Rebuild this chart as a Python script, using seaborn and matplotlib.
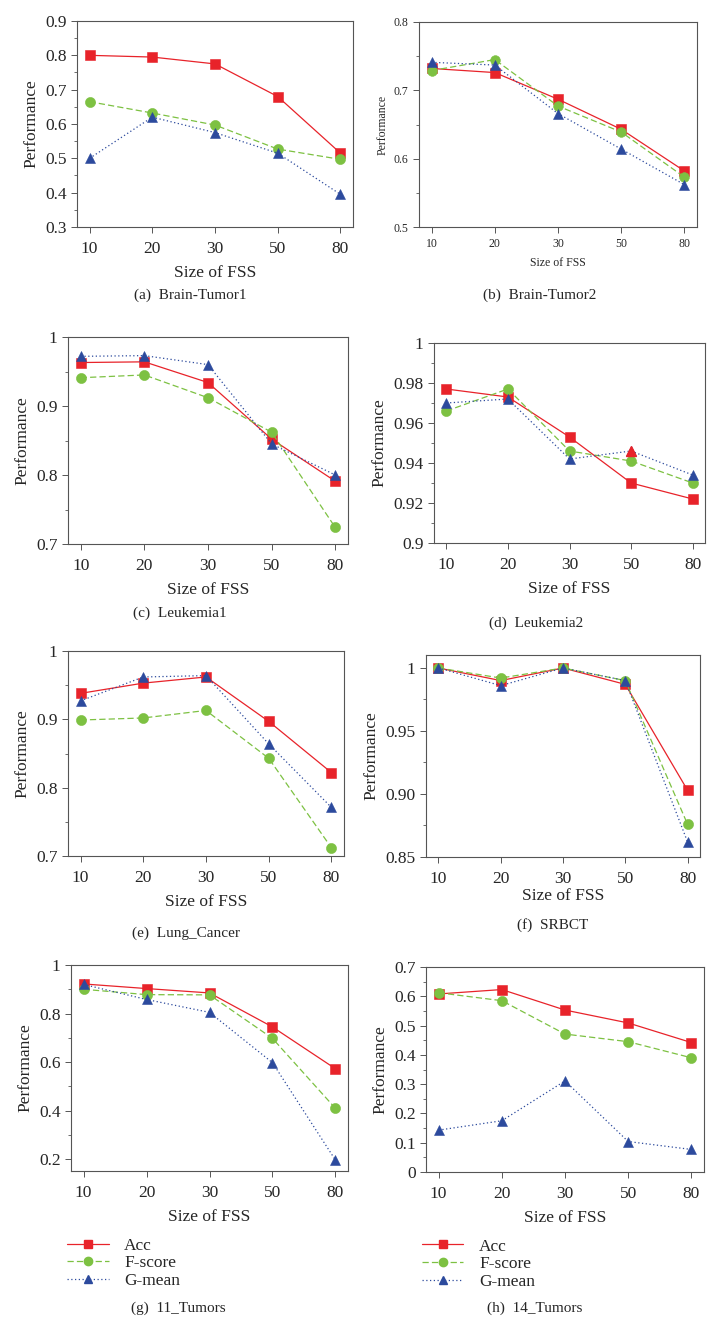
import matplotlib
matplotlib.use("Agg")
import matplotlib.pyplot as plt
from matplotlib.lines import Line2D
from matplotlib.ticker import FixedLocator, AutoMinorLocator
import seaborn as sns
import pandas as pd

sns.set_style("ticks")
plt.rcParams["font.family"] = ["Liberation Serif", "DejaVu Serif"]

sizes = ["10", "20", "30", "50", "80"]
metrics = ["Acc", "F-score", "G-mean"]
colors = ["#e8232a", "#7dc142", "#2c4a9d"]
markers = ["s", "o", "^"]
styles = ["-", (0, (5, 2.5)), (0, (1, 2))]

# values per dataset: Acc, F-score, G-mean
brain1_acc = [0.800, 0.795, 0.775, 0.680, 0.515]
brain1_f = [0.665, 0.632, 0.597, 0.527, 0.497]
brain1_g = [0.500, 0.620, 0.575, 0.515, 0.395]

brain2_acc = [0.732, 0.726, 0.687, 0.643, 0.582]
brain2_f = [0.729, 0.745, 0.677, 0.639, 0.573]
brain2_g = [0.741, 0.737, 0.666, 0.614, 0.562]

leuk1_acc = [0.963, 0.964, 0.934, 0.852, 0.791]
leuk1_f = [0.941, 0.945, 0.912, 0.862, 0.724]
leuk1_g = [0.972, 0.973, 0.960, 0.845, 0.800]

leuk2_acc = [0.977, 0.973, 0.953, 0.930, 0.922]
leuk2_f = [0.966, 0.977, 0.946, 0.941, 0.930]
leuk2_g = [0.970, 0.972, 0.942, 0.946, 0.934]

lung_acc = [0.938, 0.953, 0.962, 0.897, 0.822]
lung_f = [0.899, 0.902, 0.913, 0.843, 0.712]
lung_g = [0.927, 0.962, 0.964, 0.864, 0.771]

srbct_acc = [1.000, 0.990, 1.000, 0.987, 0.903]
srbct_f = [1.000, 0.992, 1.000, 0.990, 0.876]
srbct_g = [1.000, 0.986, 1.000, 0.990, 0.862]

t11_acc = [0.922, 0.903, 0.885, 0.745, 0.573]
t11_f = [0.900, 0.878, 0.877, 0.698, 0.410]
t11_g = [0.920, 0.858, 0.805, 0.598, 0.197]

t14_acc = [0.608, 0.623, 0.553, 0.509, 0.442]
t14_f = [0.612, 0.585, 0.471, 0.445, 0.390]
t14_g = [0.143, 0.175, 0.311, 0.104, 0.077]

yticks_a = [0.3, 0.4, 0.5, 0.6, 0.7, 0.8, 0.9]
yticks_b = [0.5, 0.6, 0.7, 0.8]
yticks_c = [0.7, 0.8, 0.9, 1.0]
yticks_d = [0.90, 0.92, 0.94, 0.96, 0.98, 1.0]
yticks_e = [0.7, 0.8, 0.9, 1.0]
yticks_f = [0.85, 0.90, 0.95, 1.0]
ylabels_f = ["0.85", "0.90", "0.95", "1"]
yticks_g = [0.2, 0.4, 0.6, 0.8, 1.0]
yticks_h = [0.0, 0.1, 0.2, 0.3, 0.4, 0.5, 0.6, 0.7]

W, H = 714, 1326
fig = plt.figure(figsize=(W / 100, H / 100), dpi=100)


def make_ax(left, top, right, bottom):
    return fig.add_axes([left / W, 1 - bottom / H, (right - left) / W, (bottom - top) / H])


def panel(ax, acc, fsc, gm, ylim, yticks, ylabels=None, fs=12.5, ms=7.3, xpad=6, lpad=6):
    df = pd.DataFrame({
        "size": sizes * 3,
        "value": acc + fsc + gm,
        "metric": [metrics[0]] * 5 + [metrics[1]] * 5 + [metrics[2]] * 5,
    })
    sns.pointplot(data=df, x="size", y="value", hue="metric", hue_order=metrics,
                  palette=colors, markers=markers, linestyles=styles,
                  errorbar=None, legend=False, ax=ax,
                  markersize=ms, linewidth=0.9, markeredgewidth=0.4)
    ax.set_xlim(-0.2, 4.2)
    ax.set_ylim(*ylim)
    ax.yaxis.set_major_locator(FixedLocator(yticks))
    if ylabels is None:
        ylabels = ["%g" % v for v in yticks]
    ax.set_yticklabels(ylabels)
    ax.yaxis.set_minor_locator(AutoMinorLocator(2))
    ax.tick_params(axis="both", which="major", labelsize=fs, length=4,
                   width=0.7, color="#555555", direction="out")
    ax.tick_params(axis="y", which="minor", length=2.5, width=0.6, color="#555555")
    ax.tick_params(axis="x", pad=xpad)
    for s in ax.spines.values():
        s.set_color("#555555")
        s.set_linewidth(0.8)
    ax.set_xlabel("Size of FSS", fontsize=fs, labelpad=lpad)
    ax.set_ylabel("Performance", fontsize=fs)


ax_a = make_ax(77, 21, 353, 227)
panel(ax_a, brain1_acc, brain1_f, brain1_g, (0.3, 0.9), yticks_a)

ax_b = make_ax(419, 22, 697, 227)
panel(ax_b, brain2_acc, brain2_f, brain2_g, (0.5, 0.8), yticks_b, fs=8.5, ms=7, xpad=4, lpad=5)

ax_c = make_ax(68, 337, 348, 544)
panel(ax_c, leuk1_acc, leuk1_f, leuk1_g, (0.7, 1.0), yticks_c)

ax_d = make_ax(434, 343, 705, 543)
panel(ax_d, leuk2_acc, leuk2_f, leuk2_g, (0.9, 1.0), yticks_d)
# the G-mean point at 50 is drawn red in the original
ax_d.plot(3, leuk2_g[3], marker="^", color=colors[0], markersize=7.3, zorder=5)

ax_e = make_ax(68, 651, 344, 856)
panel(ax_e, lung_acc, lung_f, lung_g, (0.7, 1.0), yticks_e)

ax_f = make_ax(426, 655, 700, 857)
panel(ax_f, srbct_acc, srbct_f, srbct_g, (0.85, 1.0103), yticks_f, ylabels_f, xpad=6, lpad=1)

ax_g = make_ax(71, 965, 348, 1171)
panel(ax_g, t11_acc, t11_f, t11_g, (0.152, 1.0), yticks_g)

ax_h = make_ax(426, 967, 704, 1172)
panel(ax_h, t14_acc, t14_f, t14_g, (0.0, 0.7), yticks_h)

handles = [Line2D([], [], color=c, marker=m, linestyle=s, markersize=6, linewidth=0.9)
           for c, m, s in zip(colors, markers, styles)]
for ax in (ax_g, ax_h):
    ax.legend(handles, metrics, loc="upper left", bbox_to_anchor=(-0.04, -0.29),
              frameon=False, fontsize=12.5, handlelength=2.4, labelspacing=0.08,
              handletextpad=0.9, borderaxespad=0)

captions = [
    (190, 295, "(a)  Brain-Tumor1"),
    (540, 295, "(b)  Brain-Tumor2"),
    (180, 613, "(c)  Leukemia1"),
    (536, 623, "(d)  Leukemia2"),
    (186, 933, "(e)  Lung_Cancer"),
    (553, 925, "(f)  SRBCT"),
    (178, 1308, "(g)  11_Tumors"),
    (535, 1308, "(h)  14_Tumors"),
]
for x, y, t in captions:
    fig.text(x / W, 1 - y / H, t, ha="center", va="center", fontsize=11)

fig.savefig("out.png", dpi=100)
